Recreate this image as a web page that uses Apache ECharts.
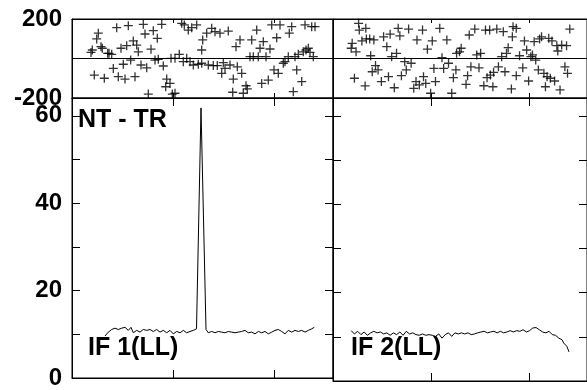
<!DOCTYPE html>
<html>
<head>
<meta charset="utf-8">
<script src="https://cdn.jsdelivr.net/npm/echarts@6/dist/echarts.min.js"></script>
<style>html,body{margin:0;padding:0;background:#fff;}#c{width:587px;height:390px;}</style>
</head>
<body>
<div id="c"></div>
<script>
// ---- data ----
const xTicks = [101, 202];
const phaseTickLabels = [-200, 200];
const ampTicks = [0, 10, 20, 30, 40, 50, 60];
const ampTickLabels = [0, 20, 40, 60];
const panelTitles = ['NT - TR', 'IF 1(LL)', 'IF 2(LL)'];

// phase scatter, IF 1 (x, phase)
const phaseX1 = [19,20.3,22.3,24.7,26.3,29,30.3,32.3,35.7,37,39.7,41.3,44.7,46.3,49,51.3,53,54.7,56.3,58.7,61.3,63,64.7,66.3,69,71.3,73,74.7,76.3,79,81.3,83,85.3,86.3,89.7,91.3,93.7,94.7,98,99,100.3,103,103,107.3,109.7,111.3,112.3,114.7,116.3,118,119.7,121.3,124.7,126.3,129.7,130.7,129.7,134.7,136.3,139.7,141.3,143,145.3,148,149.7,151.3,153,156.3,158,160.7,161.3,164,165.3,168,169.7,171.3,174,175.3,178,179.7,181.3,184.7,186.3,188,189.7,191.3,194,196.3,198,199.7,202,204.7,206.3,208,211.3,213,216.3,217.3,219.7,221.3,223,224.7,226.3,229.7,231.3,233,234,236.3,238,239.7,241.3,243];
const phaseY1 = [31,43,-84,99,128,60,52,-100,26,26,21,-50,156,-92,52,-29,-104,65,166,-8,89,-92,68,34,-33,173,124,-47,-180,47,141,-8,102,-4,173,-38,-143,-104,-126,1,-180,-176,1,21,178,-16,170,1,144,-16,156,-33,170,-29,43,94,-24,128,-33,153,-36,136,-36,128,-75,-21,-50,139,-33,-171,-104,60,-42,94,-75,-176,-138,-154,9,94,9,144,9,52,-126,85,9,-109,48,170,-58,105,-75,170,-24,-16,9,128,161,-168,9,-58,21,-117,34,170,43,52,31,161,9,161];

// phase scatter, IF 2 (x, phase)
const phaseX2 = [18.7,19.7,22,23.7,26.3,27,29.7,33,33.7,34.3,37.7,38.7,40.3,42,43.7,46.3,49.7,52,55.3,57,58.7,60.3,63,65.3,67,68.7,70.3,73.7,75.3,77.7,80.3,83,85.3,86.3,88.7,92,93,95.3,97,100.3,102,103.7,105.3,109.7,112,113.7,117,118.7,122,123.7,126.3,127,130,131.7,136.7,138.3,140,141.7,145.7,147.7,150,151.7,155,156.7,158.3,161,161.7,164.3,165,168.3,170,173.3,175,176.7,178.3,180,183.3,184.3,185,188.3,188.3,191.7,195,196.7,199,201,203.3,205,206.7,208.3,211,212.3,214.3,216.7,218.3,220,221.7,223.3,225,227.7,230,231,233.3,235,238.3,240,241,243.3];
const phaseY2 = [52,77,-100,34,178,144,89,-139,153,99,99,14,-67,94,-36,-58,-117,110,60,-92,123,9,-148,26,153,115,-87,-16,-58,149,-24,-151,-117,94,-134,144,-92,-126,47,-176,89,-50,-117,153,4,-50,94,-24,-176,-97,-58,26,34,52,-131,-87,119,-42,149,18,-47,26,-138,144,-97,144,-84,-143,-70,149,-42,9,136,-67,26,55,-154,110,161,153,-87,14,-47,89,43,-114,9,18,85,-8,-58,99,110,-75,-143,-92,102,-100,89,-114,65,38,-159,68,-42,65,-75,149];

// amplitude, IF 1
const ampX1 = [33,36.3,39.7,43,46.3,49.7,53,56.3,59,61.3,64.7,68,71.3,74.7,78,81.3,84.7,88,91.3,94.7,98,101.3,104.7,108,111.3,114.7,118,121.3,124.5,129,134,136.3,139.7,143,146.3,149.7,153,156.3,159.7,163,166.3,169.7,173,176.3,179.7,183,186.3,189.7,193,196.3,199.7,203,206.3,209.7,213,216.3,219.7,223,226.3,229.7,233,236.3,239.7,242.3];
const ampY1 = [9.6,10.5,11.1,11.4,11.1,11.4,11.6,10.9,11.6,10.35,10.9,10.5,11.1,10.9,11.1,10.65,11.1,10.5,10.9,10.35,10.9,10.1,10.65,10.35,10.9,10.35,10.65,10.9,11.25,61.8,11.1,10.35,10.65,10.35,10.65,10.5,10.35,10.65,10.5,10.35,10.5,10.65,10.9,10.35,10.5,10.1,10.65,10.35,10.65,10.1,10.5,10.9,11.1,10.65,10.1,10.9,10.5,10.9,10.65,10.9,10.5,10.9,11.25,11.6];

// amplitude, IF 2
const ampX2 = [18.7,22,25.3,28.7,32,35.3,38.7,42,45.3,48.7,52,55.3,58.7,62,65.3,68.7,72,75.3,78.7,82,85.3,88.7,92,95.3,98.7,102,105.3,108.7,112,115.3,118.7,122,125.3,128.7,132,135.3,138.7,142,145.3,148.7,152,155.3,158.7,162,165.3,168.7,172,175.3,178.7,182,185.3,188.7,192,195.3,198.7,202,205.3,208.7,212,215.3,218.7,222,225.3,228.7,232,235.3,237,240.3,242.5];
const ampY2 = [11.4,10.65,11.25,10.5,11.1,10.35,10.9,11.25,10.9,11.1,10.65,10.9,10.35,10.9,10.5,11.1,10.35,11.25,10.65,10.9,10.5,10.35,10.65,10.35,10.5,10.35,10.1,10.65,9.7,10.5,10.9,10.1,10.9,10.65,10.9,10.65,10.9,10.5,10.65,10.9,11.1,11.25,10.9,11.1,11.25,10.9,11.25,10.9,11.1,11.4,11.1,11.4,11.25,11.6,11.1,11.4,12.0,12.1,11.6,11.1,10.9,11.25,10.5,10.35,9.7,9.35,8.6,7.85,6.6];

const zip = (a, b) => a.map((v, i) => [v, b[i]]);

// ---- chart ----
const FONTFAM = '"Liberation Sans", Arial, sans-serif';
const FONT = {fontFamily: FONTFAM, fontWeight: 'bold', fontSize: 24, color: '#000'};
const PLUS = 'path://M0,4.5H9M4.5,0V9';
const W = 261, L1 = 72, L2 = 333;
const grids = [
  {left: L1, top: 19, width: W, height: 79},
  {left: L2, top: 19, width: W, height: 79},
  {left: L1, top: 98, width: W, height: 283},
  {left: L2, top: 98, width: W, height: 283}
].map(g => Object.assign({show: true, borderColor: '#000', borderWidth: 1, backgroundColor: 'transparent'}, g));

function xAx(gi, pos, len) {
  return {
    type: 'value', gridIndex: gi, position: pos, min: 0, max: W,
    axisLine: {show: true, onZero: false, lineStyle: {color: '#000', width: 1}},
    axisTick: {show: true, inside: true, length: len, customValues: xTicks, lineStyle: {color: '#000', width: 1}},
    axisLabel: {show: false}, splitLine: {show: false}
  };
}
function yPhase(gi, pos, labels) {
  return {
    type: 'value', gridIndex: gi, position: pos, min: -200, max: 200,
    axisLine: {show: true, onZero: false, lineStyle: {color: '#000', width: 1}},
    axisTick: {show: false},
    axisLabel: labels ? Object.assign({show: true, margin: 10, customValues: phaseTickLabels, padding: [6, 0, 0, 0]}, FONT) : {show: false},
    splitLine: {show: false}
  };
}
function yAmp(gi, pos, labels) {
  return {
    type: 'value', gridIndex: gi, position: pos, min: 0, max: 64.07,
    axisLine: {show: true, onZero: false, lineStyle: {color: '#000', width: 1}},
    axisTick: {show: true, inside: true, length: 8, customValues: ampTicks, lineStyle: {color: '#000', width: 1}},
    axisLabel: labels ? Object.assign({show: true, margin: 10, customValues: ampTickLabels, padding: [5, 0, 0, 0]}, FONT) : {show: false},
    splitLine: {show: false}
  };
}

const zeroLine = {
  silent: true, symbol: ['none', 'none'], label: {show: false},
  lineStyle: {color: '#000', width: 1, type: 'solid'},
  emphasis: {disabled: true},
  data: [{yAxis: 0}]
};
const scatterStyle = {color: 'none', borderColor: '#000', borderWidth: 1.3};
const titleFont = 'bold 25px ' + FONTFAM;

const option = {
  animation: false,
  backgroundColor: '#fff',
  grid: grids,
  xAxis: [
    xAx(0, 'bottom', 5), xAx(0, 'top', 4),
    xAx(1, 'bottom', 5), xAx(1, 'top', 4),
    xAx(2, 'bottom', 8), xAx(2, 'top', 8),
    xAx(3, 'bottom', 8), xAx(3, 'top', 8)
  ],
  yAxis: [
    yPhase(0, 'left', true), yPhase(1, 'left', false),
    yAmp(2, 'left', true), yAmp(2, 'right', false),
    yAmp(3, 'left', false), yAmp(3, 'right', false)
  ],
  series: [
    {type: 'scatter', xAxisIndex: 0, yAxisIndex: 0, symbol: PLUS, symbolSize: 9, itemStyle: scatterStyle, data: zip(phaseX1, phaseY1), markLine: zeroLine},
    {type: 'scatter', xAxisIndex: 2, yAxisIndex: 1, symbol: PLUS, symbolSize: 9, itemStyle: scatterStyle, data: zip(phaseX2, phaseY2), markLine: zeroLine},
    {type: 'line', xAxisIndex: 4, yAxisIndex: 2, showSymbol: false, lineStyle: {color: '#000', width: 1}, data: zip(ampX1, ampY1)},
    {type: 'line', xAxisIndex: 6, yAxisIndex: 4, showSymbol: false, lineStyle: {color: '#000', width: 1}, data: zip(ampX2, ampY2)}
  ],
  graphic: [
    {type: 'text', left: 78, top: 108, style: {text: panelTitles[0], fill: '#000', font: titleFont}},
    {type: 'text', left: 88, top: 336, style: {text: panelTitles[1], fill: '#000', font: titleFont}},
    {type: 'text', left: 351, top: 336, style: {text: panelTitles[2], fill: '#000', font: titleFont}}
  ]
};
const chart = echarts.init(document.getElementById('c'), null, {renderer: 'canvas'});
chart.setOption(option);
</script>
</body>
</html>
